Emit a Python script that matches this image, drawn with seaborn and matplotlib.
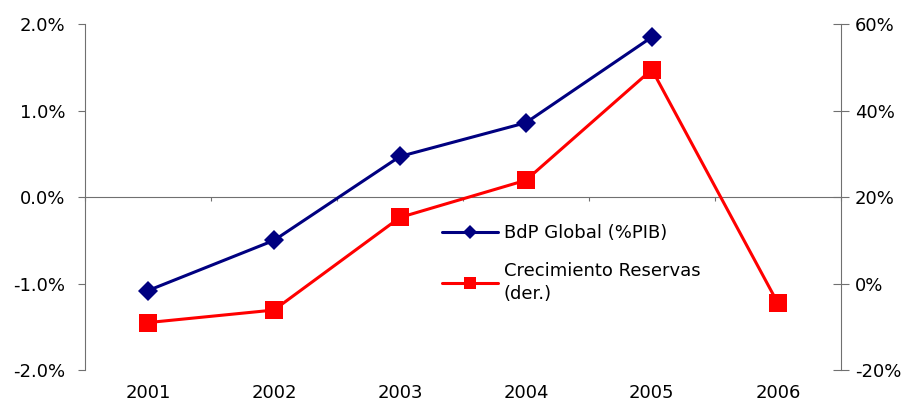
import numpy as np
import pandas as pd
import matplotlib
matplotlib.use('Agg')
import matplotlib.pyplot as plt
from matplotlib.ticker import FuncFormatter, FixedLocator
import seaborn as sns

# data
years_bdp = [2001, 2002, 2003, 2004, 2005]
bdp_global = [-1.08, -0.50, 0.47, 0.86, 1.85]          # % of GDP (left axis)

years_res = [2001, 2002, 2003, 2004, 2005, 2006]
reservas = [-9.0, -6.1, 15.3, 23.9, 49.5, -4.5]        # % growth (right axis)

year_labels = ['2001', '2002', '2003', '2004', '2005', '2006']

sns.set_style('white')
plt.rcParams['font.family'] = ['DejaVu Sans']
plt.rcParams['font.size'] = 13
plt.rcParams['text.color'] = 'black'
plt.rcParams['xtick.color'] = 'black'
plt.rcParams['ytick.color'] = 'black'

fig = plt.figure(figsize=(9.09, 4.05), dpi=100)
ax = fig.add_axes([0.0935, 0.086, 0.8315, 0.8545])
ax2 = ax.twinx()

df1 = pd.DataFrame({'year': years_bdp, 'val': bdp_global})
df2 = pd.DataFrame({'year': years_res, 'val': reservas})

sns.lineplot(data=df1, x='year', y='val', ax=ax, color='#000080', lw=2.2,
             marker='D', markersize=10.5, markeredgewidth=0, label='BdP Global (%PIB)',
             legend=False)
sns.lineplot(data=df2, x='year', y='val', ax=ax2, color='#FF0000', lw=2.2,
             marker='s', markersize=13.5, markeredgewidth=0,
             label='Crecimiento Reservas\n(der.)', legend=False)

ax.set_xlim(2000.5, 2006.5)
ax.set_ylim(-2, 2)
ax2.set_ylim(-20, 60)
ax.set_yticks([-2, -1, 0, 1, 2])
ax2.set_yticks([-20, 0, 20, 40, 60])
ax.yaxis.set_major_formatter(FuncFormatter(lambda v, p: f'{v:.1f}%'))
ax2.yaxis.set_major_formatter(FuncFormatter(lambda v, p: f'{v:.0f}%'))

ax.set_xticks(years_res)
ax.set_xticklabels(year_labels)
ax.tick_params(axis='x', length=0, pad=10)
ax.set_xlabel('')
ax.set_ylabel('')
ax2.set_ylabel('')

spine_col = '#707070'
for a in (ax, ax2):
    for s in ('top', 'bottom'):
        a.spines[s].set_visible(False)
ax.spines['right'].set_visible(False)
ax2.spines['left'].set_visible(False)
ax.spines['left'].set_color(spine_col)
ax2.spines['right'].set_color(spine_col)
ax.tick_params(axis='y', length=5, color=spine_col, pad=9, left=True)
ax2.tick_params(axis='y', direction='inout', length=12, color=spine_col, pad=4, right=True)

# zero line acting as category axis, ticks between categories
sec = ax.secondary_xaxis(0.5)
sec.spines['top'].set_color(spine_col)
sec.spines['bottom'].set_color(spine_col)
sec.xaxis.set_major_locator(FixedLocator([2000.5 + k for k in range(7)]))
sec.set_xticklabels([])
sec.tick_params(axis='x', direction='in', length=3, color=spine_col,
                labeltop=False, labelbottom=False)

h1, l1 = ax.get_legend_handles_labels()
h2, l2 = ax2.get_legend_handles_labels()
leg = fig.legend(h1 + h2, l1 + l2, loc='upper left', bbox_to_anchor=(0.468, 0.487),
                 frameon=False, handlelength=3.1, handletextpad=0.35, labelspacing=1.1,
                 markerscale=0.65, fontsize=13)
for t in leg.get_texts():
    t.set_linespacing(1.35)

fig.savefig('out.png', dpi=100)
